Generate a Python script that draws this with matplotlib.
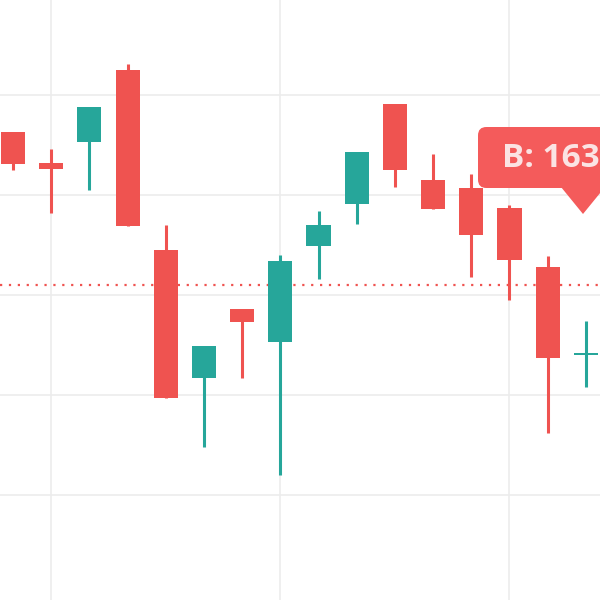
import matplotlib.pyplot as plt
from matplotlib.patches import FancyBboxPatch, Polygon
import numpy as np

# OHLC values (one candle per slot)
opens  = [178.3, 175.2, 177.3, 184.5, 166.5, 153.7, 160.6, 157.3,
          166.9, 171.1, 181.1, 173.5, 172.7, 170.7, 164.8, 156.0]
highs  = [178.3, 176.6, 180.8, 185.1, 169.0, 156.9, 160.6, 166.0,
          170.4, 176.3, 181.1, 176.1, 174.1, 171.0, 165.9, 159.4]
lows   = [174.5, 170.2, 172.5, 168.9, 151.7, 146.8, 153.7, 144.0,
          163.6, 169.1, 172.8, 170.6, 163.8, 161.5, 148.2, 152.8]
closes = [175.1, 174.6, 180.8, 168.9, 151.7, 156.9, 159.3, 165.4,
          169.0, 176.3, 174.5, 170.6, 168.0, 165.5, 155.7, 156.0]
last_price = 163.0
label_text = "B: 163"

UP = "#26a69a"
DOWN = "#ef5350"

fig = plt.figure(figsize=(6, 6), dpi=100)
ax = fig.add_axes([0, 0, 1, 1])

x = np.arange(len(opens))
colors = [UP if c >= o else DOWN for o, c in zip(opens, closes)]
bottoms = [min(o, c) for o, c in zip(opens, closes)]
heights = [max(abs(c - o), 0.2) for o, c in zip(opens, closes)]

ax.vlines(x, lows, highs, colors=colors, linewidth=2.2, zorder=3)
ax.bar(x, heights, bottom=bottoms, width=0.63, color=colors, zorder=4)

# grid
for gx in [1, 7, 13]:
    ax.axvline(gx, color="#ececec", linewidth=1.2, zorder=0)
for gy in [142, 152, 162, 172, 182]:
    ax.axhline(gy, color="#ececec", linewidth=1.2, zorder=0)

ax.axhline(last_price, color=DOWN, linewidth=1.6, linestyle=(0, (1, 3)), zorder=2)

ax.set_xlim(-0.34, 15.37)
ax.set_ylim(131.5, 191.5)
ax.axis("off")

# price tooltip (clipped at right edge)
box = FancyBboxPatch((478 / 600, 1 - 188 / 600), 140 / 600, 61 / 600,
                     boxstyle="round,pad=0,rounding_size=0.014",
                     transform=fig.transFigure, facecolor="#f45b5b",
                     edgecolor="none", zorder=10)
fig.patches.append(box)
tri = Polygon([(561 / 600, 1 - 187 / 600), (605 / 600, 1 - 187 / 600),
               (583 / 600, 1 - 214 / 600)], closed=True,
              transform=fig.transFigure, facecolor="#f45b5b",
              edgecolor="none", zorder=10)
fig.patches.append(tri)
fig.text(502 / 600, 1 - 167 / 600, label_text, color="#fbe3e3",
         fontsize=24, fontweight="bold", va="baseline", ha="left",
         family="Open Sans", zorder=11)

fig.savefig("out.png", dpi=100, facecolor="white")
